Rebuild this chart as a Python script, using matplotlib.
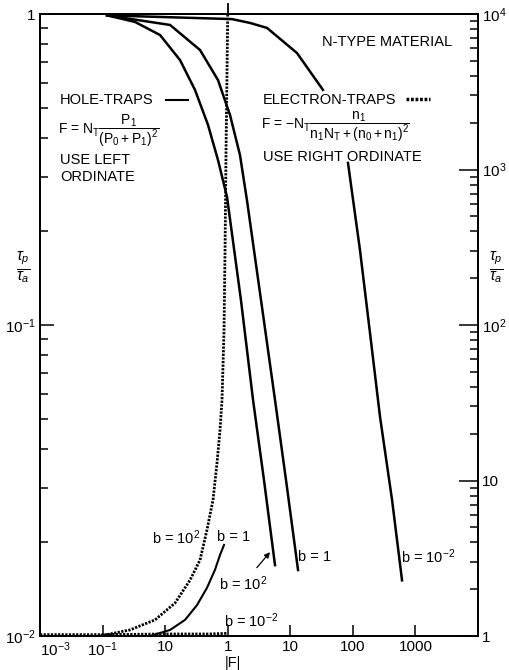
import matplotlib
matplotlib.use("Agg")
import matplotlib.pyplot as plt
from matplotlib.lines import Line2D
from matplotlib.ticker import LogLocator, NullLocator, NullFormatter

# hole traps (solid, left ordinate)
hole_b100_F = [0.0118, 0.033, 0.0828, 0.173, 0.300, 0.484, 0.70, 0.975, 1.63, 2.54, 3.80, 5.70]
hole_b100_tau = [0.99, 0.943, 0.856, 0.711, 0.570, 0.440, 0.339, 0.258, 0.120, 0.0574, 0.0317, 0.0169]
hole_b1_F = [0.0118, 0.12, 0.361, 0.70, 1.09, 1.57, 2.03, 3.41, 5.70, 8.55, 13.3]
hole_b1_tau = [0.99, 0.922, 0.766, 0.613, 0.473, 0.352, 0.252, 0.120, 0.0574, 0.0317, 0.0163]
# b = 10^-2 curve is broken by the electron-trap text
hole_b001_F_top = [0.0118, 1.17, 2.27, 4.25, 12.8, 33.3]
hole_b001_tau_top = [0.99, 0.963, 0.936, 0.902, 0.749, 0.570]
hole_b001_F_low = [83.6, 130, 188, 272, 423, 611]
hole_b001_tau_low = [0.332, 0.174, 0.0942, 0.0506, 0.0274, 0.0151]

# electron traps (dotted, right ordinate)
el_b100_F = [0.0091, 0.0274, 0.0689, 0.144, 0.250, 0.361, 0.466, 0.582, 0.675, 0.753,
             0.811, 0.873, 0.906, 0.94, 0.98, 1.0]
el_b100_tau = [1.0, 1.094, 1.27, 1.63, 2.29, 3.08, 4.81, 7.50, 13.0, 21.1,
               33.0, 92.9, 303, 1334, 5058, 10000]
el_b1_F = [0.0573, 0.12, 0.208, 0.323, 0.466, 0.625, 0.753, 0.873]
el_b1_tau = [1.0, 1.094, 1.27, 1.58, 2.04, 2.66, 3.32, 3.85]
el_b001_F = [0.001, 0.01, 0.1, 0.5, 0.97]
el_b001_tau = [1.02, 1.02, 1.03, 1.03, 1.04]

x_ticks = [1e-3, 1e-2, 1e-1, 1, 10, 100, 1000]
x_labels = ["10$^{-3}$", "10$^{-1}$", "10", "1", "10", "100", "1000"]
left_ticks = [0.01, 0.1, 1]
left_labels = ["10$^{-2}$", "10$^{-1}$", "1"]
right_ticks = [1, 10, 100, 1000, 10000]
right_labels = ["1", "10", "10$^2$", "10$^3$", "10$^4$"]

plt.rcParams["font.family"] = "Liberation Sans"
plt.rcParams["mathtext.fontset"] = "custom"
plt.rcParams["mathtext.rm"] = "Liberation Sans"
plt.rcParams["mathtext.it"] = "Liberation Sans:italic"

W, H = 510, 670
fig = plt.figure(figsize=(W / 100, H / 100), dpi=100)

def px(x, y):
    return x / W, 1 - y / H

ax = fig.add_axes([40 / W, 1 - 636 / H, 438 / W, 622 / H])
ax.set_xscale("log")
ax.set_yscale("log")
ax.set_xlim(1e-3, 1e4)
ax.set_ylim(1e-2, 1)
ax2 = ax.twinx()
ax2.set_yscale("log")
ax2.set_ylim(1, 1e4)

for a in (ax, ax2):
    for s in a.spines.values():
        s.set_linewidth(1.3)

ax.set_xticks(x_ticks, x_labels)
ax.get_xticklabels()[0].set_horizontalalignment("left")
ax.xaxis.set_minor_locator(NullLocator())
ax.tick_params(axis="x", direction="in", length=8, width=1.1, labelsize=11, pad=3)
ax.set_yticks(left_ticks, left_labels)
ax.yaxis.set_minor_locator(LogLocator(base=10, subs=range(2, 10)))
ax.yaxis.set_minor_formatter(NullFormatter())
ax.tick_params(axis="y", which="major", direction="in", length=10, width=1.1, labelsize=11, pad=3)
ax.tick_params(axis="y", which="minor", direction="in", length=6, width=1.1)
ax2.set_yticks(right_ticks, right_labels)
ax2.yaxis.set_minor_locator(LogLocator(base=10, subs=range(2, 10)))
ax2.yaxis.set_minor_formatter(NullFormatter())
ax2.tick_params(axis="y", which="major", direction="in", length=14, width=1.1, labelsize=11, pad=3)
ax2.tick_params(axis="y", which="minor", direction="in", length=6, width=1.1)

lw = 1.8
ax.plot(hole_b100_F, hole_b100_tau, color="black", lw=lw)
ax.plot(hole_b1_F, hole_b1_tau, color="black", lw=lw)
ax.plot(hole_b001_F_top, hole_b001_tau_top, color="black", lw=lw)
ax.plot(hole_b001_F_low, hole_b001_tau_low, color="black", lw=lw)

dot = (0, (0.8, 0.5))
ax2.plot(el_b100_F, el_b100_tau, color="black", lw=2, ls=dot)
ax2.plot([1.0, 1.0], [1e4, 1.16e4], color="black", lw=1.3, clip_on=False)
ax2.plot(el_b1_F, el_b1_tau, color="black", lw=1.5)
ax2.plot(el_b001_F, el_b001_tau, color="black", lw=2, ls=dot)

fs = 10.5
tk = dict(fontsize=fs, color="black")
fig.text(*px(322, 42), "N-TYPE MATERIAL", va="center", **tk)
fig.text(*px(60, 100), "HOLE-TRAPS", va="center", **tk)
fig.add_artist(Line2D([166 / W, 188 / W], [1 - 100 / H] * 2, color="black", lw=1.5))
fig.text(*px(58, 131), r"F = N$_\mathrm{T}\dfrac{\mathrm{P_1}}{\mathrm{(P_0+P_1)^2}}$",
         va="center", fontsize=10)
fig.text(*px(60, 160), "USE LEFT", va="center", **tk)
fig.text(*px(60, 177), "ORDINATE", va="center", **tk)

fig.text(*px(263, 100), "ELECTRON-TRAPS", va="center", **tk)
fig.add_artist(Line2D([406 / W, 430 / W], [1 - 99 / H] * 2, color="black", lw=2.5, ls=dot))
fig.text(*px(261, 127),
         r"F = $-$N$_\mathrm{T}\dfrac{\mathrm{n_1}}{\mathrm{n_1N_T+(n_0+n_1)^2}}$",
         va="center", fontsize=10)
fig.text(*px(263, 157), "USE RIGHT ORDINATE", va="center", **tk)

fig.text(*px(23, 268), r"$\frac{\tau_p}{\tau_a}$", ha="center", va="center", fontsize=16)
fig.text(*px(496, 268), r"$\frac{\tau_p}{\tau_a}$", ha="center", va="center", fontsize=16)
fig.text(*px(233, 663), "|F|", ha="center", va="center", **tk)

fig.text(*px(176, 538), "b = 10$^2$", ha="center", va="center", **tk)
fig.text(*px(234, 537), "b = 1", ha="center", va="center", **tk)
fig.text(*px(251, 621), "b = 10$^{-2}$", ha="center", va="center", **tk)
fig.text(*px(315, 557), "b = 1", ha="center", va="center", **tk)
fig.text(*px(428, 557), "b = 10$^{-2}$", ha="center", va="center", **tk)
ax.annotate("b = 10$^2$", xy=(4.74, 0.0186), xytext=(1.75, 0.0147), ha="center", va="center",
            fontsize=fs, arrowprops=dict(arrowstyle="-|>", color="black", lw=0.9,
                                         shrinkA=4, shrinkB=0, mutation_scale=8))

fig.savefig("out.png", dpi=100)
